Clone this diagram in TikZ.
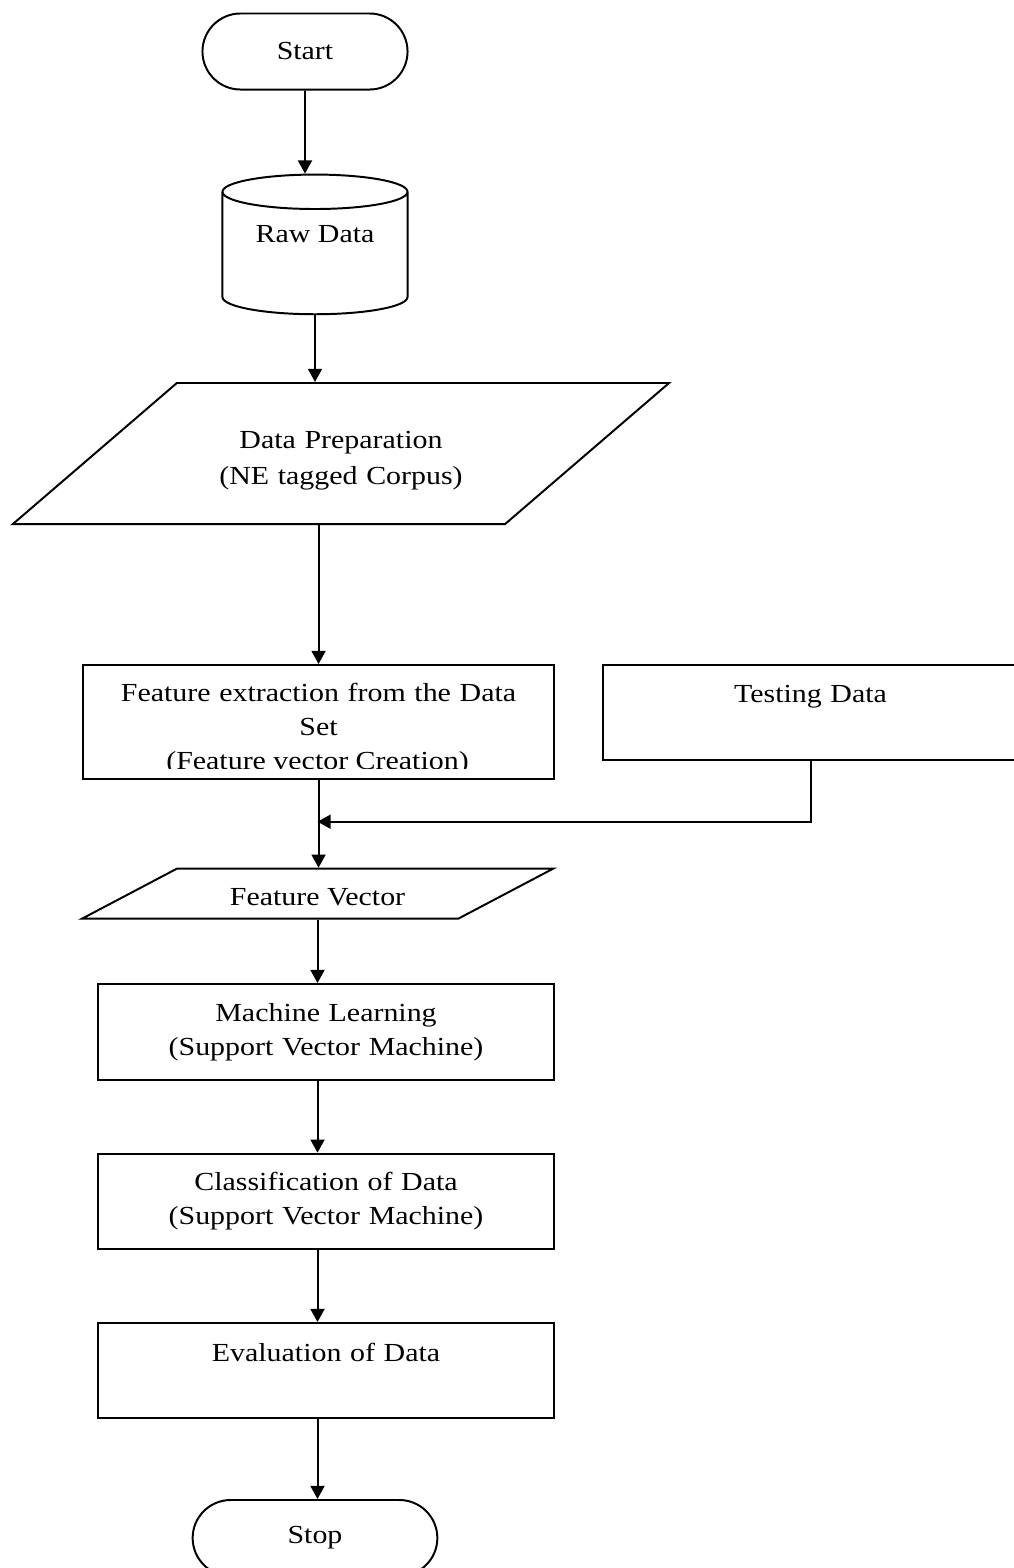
\documentclass[tikz,border=0pt]{standalone}
\usepackage{fontspec}
\setmainfont{Liberation Serif}[FakeStretch=1.15]
\usepackage{tikz}
\usetikzlibrary{shapes.geometric}
\usetikzlibrary{shapes.misc}
\usetikzlibrary{arrows.meta}

\begin{document}
\begin{tikzpicture}[x=0.025cm, y=-0.025cm,
		every node/.style={font=\fontsize{18.5pt}{24.2pt}\selectfont, line width=1.4pt},
		term/.style={draw, rounded rectangle, minimum height=1.9cm},
		io/.style={draw, trapezium, trapezium stretches body=true, inner sep=0pt, align=center},
		box/.style={draw, rectangle, anchor=north west, inner sep=0pt, align=center},
		arr/.style={line width=1.4pt, -{Triangle[length=3.3mm, width=3.5mm]}}]
	\useasboundingbox (0, 0) rectangle (1014, 1568);

	\node[term, minimum width=5.36cm] (start) at (305, 51.5) {Start};
	\node[draw, cylinder, shape border rotate=90, aspect=0.29, inner sep=0pt,
		minimum width=4.625cm, minimum height=1cm,
		text height=0.8125cm, text depth=1.3625cm] (raw) at (315, 253.5) {Raw Data};
	% io shapes: text height + depth = shape height, so the angles stay
	\node[io, trapezium left angle=40.7, trapezium right angle=139.3, text width=6.5cm,
		text height=1.625cm, text depth=1.9cm, minimum width=16.4cm] (prep) at (341, 453.5)
		{Data Preparation\\[1.4pt](NE tagged Corpus)};

	% boxes: (text width, height above first baseline, depth below it)
	\node[box, text width=11.775cm, text height=0.92cm, text depth=1.93cm] (feat) at (82, 664)
		{Feature extraction from the Data\\Set};
	% last line is cut off by the box
	\begin{scope}
		\clip (82, 664) rectangle (553, 768);
		\node[anchor=base, inner sep=0pt] (featsub) at (317.5, 769) {(Feature vector Creation)};
	\end{scope}
	\node[box, text width=10.375cm, text height=0.925cm, text depth=1.45cm] (test) at (602, 664)
		{Testing Data};
	\node[io, trapezium left angle=27.8, trapezium right angle=152.2,
		text height=0.925cm, text depth=0.325cm, minimum width=11.775cm] (vec) at (317.5, 893.7)
		{Feature Vector};
	\node[box, text width=11.4cm, text height=0.94cm, text depth=1.46cm] (learn) at (97, 983)
		{Machine Learning\\(Support Vector Machine)};
	\node[box, text width=11.4cm, text height=0.91cm, text depth=1.47cm] (classify) at (97, 1152.7)
		{Classification of Data\\(Support Vector Machine)};
	\node[box, text width=11.4cm, text height=0.95cm, text depth=1.425cm] (eval) at (97, 1322)
		{Evaluation of Data};
	\node[term, minimum width=6.35cm] (stop) at (315, 1538) {Stop};

	\coordinate (join) at (317.5, 821.7);

	\draw[arr] (start) -- (start |- raw.top);
	\draw[arr] (raw.bottom) -- (raw.bottom |- prep.north);
	\draw[arr] (feat.north |- prep.south) -- (feat.north);
	\draw[arr] (feat.south) -- (feat.south |- vec.north);
	\draw[arr] (test.south) |- (join);
	\draw[arr] (vec.south) -- (vec.south |- learn.north);
	\draw[arr] (vec.south |- learn.south) -- (vec.south |- classify.north);
	\draw[arr] (vec.south |- classify.south) -- (vec.south |- eval.north);
	\draw[arr] (vec.south |- eval.south) -- (vec.south |- stop.north);

\end{tikzpicture}
\end{document}
